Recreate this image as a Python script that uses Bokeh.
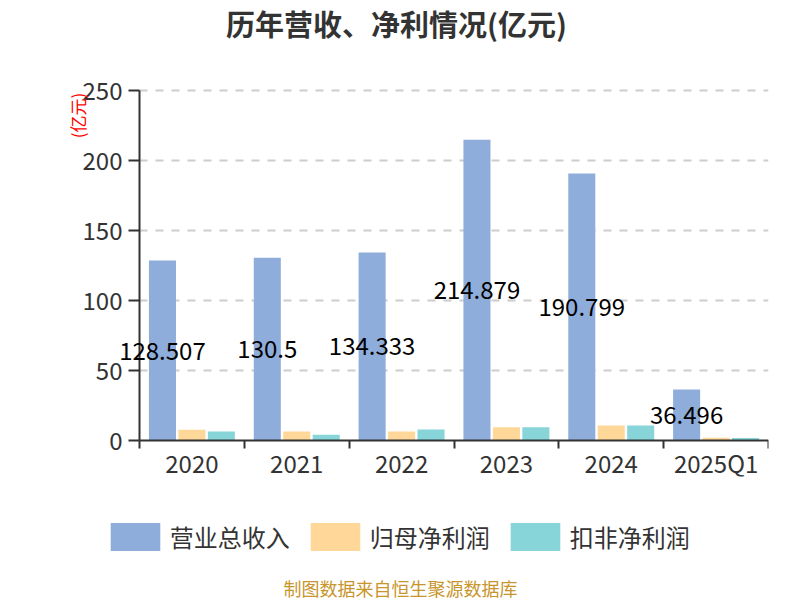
import numpy as np
from bokeh.plotting import figure
from bokeh.layouts import column
from bokeh.models import (ColumnDataSource, FixedTicker, Range1d, Label, Legend,
                          LegendItem, LabelSet)
from bokeh.core.properties import value
from bokeh.embed import file_html
from bokeh.resources import INLINE

categories = ["2020", "2021", "2022", "2023", "2024", "2025Q1"]
revenue = [128.507, 130.5, 134.333, 214.879, 190.799, 36.496]
net_profit = [7.6, 6.4, 6.4, 9.5, 10.7, 1.9]
deducted_profit = [6.4, 4.1, 7.9, 9.5, 10.7, 1.7]
revenue_labels = ["128.507", "130.5", "134.333", "214.879", "190.799", "36.496"]
y_ticks = [0, 50, 100, 150, 200, 250]
series_names = ["营业总收入", "归母净利润", "扣非净利润"]
colors = ["#8FADDB", "#FFD899", "#87D5D9"]
title_text = "历年营收、净利情况(亿元)"
unit_text = "(亿元)"
source_text = "制图数据来自恒生聚源数据库"

FONT = "Noto Sans CJK SC"
W = 800
TOP_H, MAIN_H, BOT_H = 60, 460, 80
FRAME_L, AXIS_X, FRAME_R = 64, 139, 768     # screen x: frame left, y-axis, frame right
FRAME_T, FRAME_B = 64, 476                  # screen y: frame top / bottom
AX_TOP, AX_ZERO = 90, 440                   # screen y of the 250 and 0 values
Y_MAX = 250

n = len(categories)
px_per = (FRAME_R - AXIS_X) / n
x0 = -(AXIS_X - FRAME_L) / px_per
py_per = (AX_ZERO - AX_TOP) / Y_MAX
y_hi = Y_MAX + (AX_TOP - FRAME_T) / py_per
y_lo = -(FRAME_B - AX_ZERO) / py_per
centers = np.arange(n) + 0.5
bar_w = 0.258
off = 0.281

# ---------- title strip ----------
ft = figure(width=W, height=TOP_H, output_backend="svg", toolbar_location=None,
            x_range=Range1d(FRAME_L, FRAME_R), y_range=Range1d(TOP_H, 0),
            x_axis_type=None, y_axis_type=None, min_border=0)
ft.outline_line_color = None
ft.add_layout(Label(x=396, y=22.5, text=title_text, text_align="center",
                    text_baseline="middle", text_font_size="29px", text_font_style="bold",
                    text_color="#333333", text_font=FONT))

# ---------- main chart ----------
src = ColumnDataSource(dict(
    x_rev=centers - off, x_np=centers, x_dp=centers + off,
    rev=revenue, np_=net_profit, dp=deducted_profit,
    mid=[v / 2 for v in revenue], lab=revenue_labels,
))

p = figure(width=W, height=MAIN_H, output_backend="svg", toolbar_location=None,
           x_range=Range1d(x0, n), y_range=Range1d(y_lo, y_hi),
           min_border_left=FRAME_L, min_border_right=W - FRAME_R,
           min_border_top=FRAME_T - TOP_H, min_border_bottom=TOP_H + MAIN_H - FRAME_B)
p.outline_line_color = None

bar_cols = [("x_rev", "rev"), ("x_np", "np_"), ("x_dp", "dp")]
for (xc, yc), c in zip(bar_cols, colors):
    p.vbar(x=xc, top=yc, bottom=0, width=bar_w, source=src, fill_color=c, line_color=None)

p.add_layout(LabelSet(x="x_rev", y="mid", text="lab", source=src, text_align="center",
                      text_baseline="middle", text_font_size=value("24px"), text_color="#000000",
                      text_font=value(FONT)))

xa = p.xaxis[0]
xa.fixed_location = 0
xa.bounds = (0, n)
xa.ticker = FixedTicker(ticks=list(centers), minor_ticks=list(range(0, n + 1)))
xa.major_label_overrides = {float(c): cat for c, cat in zip(centers, categories)}
xa.major_tick_out = 0
xa.major_tick_in = 0
xa.minor_tick_out = 8
xa.minor_tick_in = 0
xa.minor_tick_line_color = "#333333"
xa.minor_tick_line_width = 2
xa.axis_line_color = "#333333"
xa.axis_line_width = 2
xa.major_label_text_font_size = "24px"
xa.major_label_text_color = "#333333"
xa.major_label_text_font = FONT
xa.major_label_standoff = -4

ya = p.yaxis[0]
ya.fixed_location = 0
ya.bounds = (0, Y_MAX)
ya.ticker = FixedTicker(ticks=y_ticks)
ya.major_tick_out = 11
ya.major_tick_in = 0
ya.minor_tick_line_color = None
ya.major_tick_line_color = "#333333"
ya.major_tick_line_width = 2
ya.axis_line_color = "#333333"
ya.axis_line_width = 2
ya.major_label_text_font_size = "24px"
ya.major_label_text_color = "#333333"
ya.major_label_text_font = FONT
ya.major_label_standoff = 6

grid = p.ygrid[0]
grid.grid_line_color = None
gsrc = ColumnDataSource(dict(y=y_ticks[1:], x0=[0] * (len(y_ticks) - 1),
                             x1=[n] * (len(y_ticks) - 1)))
p.segment(x0="x0", y0="y", x1="x1", y1="y", source=gsrc, line_color="#cccccc",
          line_dash="8 8", line_width=2, level="underlay")
p.xgrid.grid_line_color = None

# unit label next to the y axis
p.add_layout(Label(x=(77 - AXIS_X) / px_per, y=(AX_ZERO - 115) / py_per,
                   text=unit_text, angle=np.pi / 2, text_align="center",
                   text_baseline="middle", text_font_size="17px", text_color="#ff0000",
                   text_font=FONT))

# ---------- legend + source strip ----------
fb = figure(width=W, height=BOT_H, output_backend="svg", toolbar_location=None,
            x_range=Range1d(FRAME_L, FRAME_R), y_range=Range1d(BOT_H, 0),
            x_axis_type=None, y_axis_type=None, min_border=0)
fb.outline_line_color = None
# legend swatches: same series, hidden in this strip (only their legend glyphs show)
proxies = [fb.vbar(x=xc, top=yc, width=bar_w, source=src, fill_color=c, line_color=None,
                   visible=False) for (xc, yc), c in zip(bar_cols, colors)]
GW, GH = 62.5, 35   # legend glyph box (bokeh insets area glyphs by 10%)
legend = Legend(items=[LegendItem(label=nm, renderers=[r]) for nm, r in zip(series_names, proxies)],
                location=(110 - GW * 0.1 - FRAME_L, TOP_H + MAIN_H + BOT_H - (550 + GH * 0.1)),
                orientation="horizontal",
                glyph_width=int(GW), glyph_height=GH, label_standoff=4, spacing=14,
                padding=0, margin=0, border_line_color=None, background_fill_alpha=0,
                label_text_font_size="24px", label_text_color="#333333",
                label_text_font=FONT, label_height=GH, label_text_baseline="middle")
fb.add_layout(legend)
fb.add_layout(Label(x=400, y=587.5 - TOP_H - MAIN_H, text=source_text, text_align="center",
                    text_baseline="middle", text_font_size="18px", text_color="#C8952C",
                    text_font=FONT))

layout = column(ft, p, fb, spacing=0)
open("out.html", "w").write(file_html(layout, INLINE))
